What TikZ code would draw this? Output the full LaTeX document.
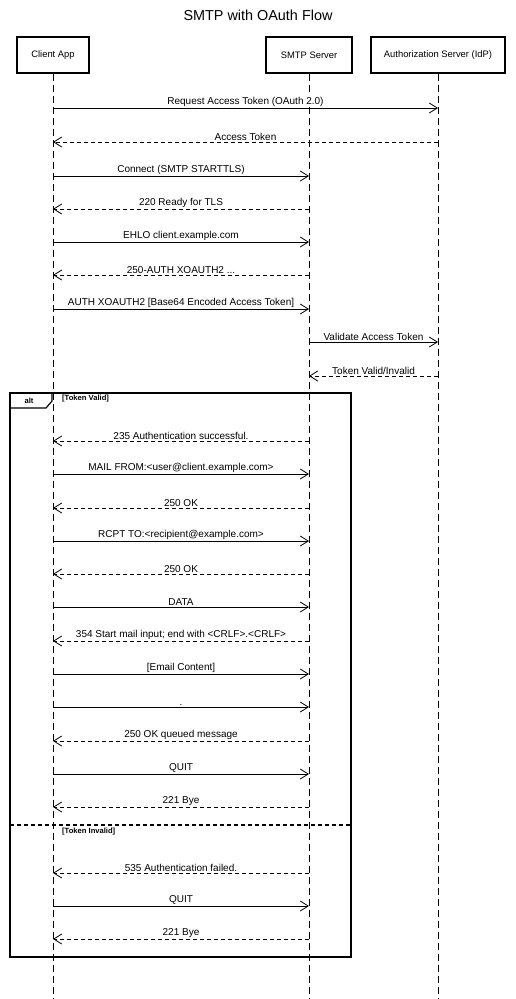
\documentclass[tikz,border=0pt]{standalone}
\usepackage{fontspec}
\setmainfont{Liberation Sans}
\usetikzlibrary{arrows.meta,positioning}
\tikzset{
  actor/.style    = {draw, line width=1.1pt, minimum height=36pt, inner xsep=6pt,
                     font=\fontsize{9.4}{11}\selectfont},
  lifeline/.style = {line width=0.8pt, dash pattern=on 7pt off 4pt},
  call/.style     = {line width=0.8pt, -{Straight Barb[length=8pt,width=10pt]}},
  reply/.style    = {line width=0.8pt, dash pattern=on 4pt off 3pt,
                     -{Straight Barb[length=8pt,width=10pt]}},
  msg/.style      = {midway, above=0.5pt, inner sep=1pt, fill=white,
                     font=\fontsize{10}{12}\selectfont},
  frame/.style    = {line width=1.2pt},
  guard/.style    = {font=\bfseries\fontsize{7.6}{9}\selectfont, anchor=west, inner sep=0pt},
}

\begin{document}
\begin{tikzpicture}[x=1pt, y=-1pt]
  \useasboundingbox (0,0) rectangle (516,999);

  % ---- title ---------------------------------------------------------------
  \node[font=\fontsize{14.4}{16}\selectfont] (title) at (258,15) {SMTP with OAuth Flow};

  % ---- participants and lifelines --------------------------------------------
  \node[actor, minimum width=72pt]  (client) at (53,55)  {Client App};
  \node[actor, minimum width=86pt]  (smtp)   at (309,55) {SMTP Server};
  \node[actor, minimum width=134pt] (idp)    at (438,55) {Authorization Server (IdP)};

  \foreach \p in {client,smtp,idp} {
    \coordinate (\p-end) at (\p |- 0,999);
    \draw[lifeline] (\p.south) -- (\p-end);
  }

  % ---- messages --------------------------------------------------------------
  \foreach \y/\src/\dst/\kind/\txt in {
      108/client/idp/call/{Request Access Token (OAuth 2.0)},
      142/idp/client/reply/{Access Token},
      176/client/smtp/call/{Connect (SMTP STARTTLS)},
      209/smtp/client/reply/{220 Ready for TLS},
      242/client/smtp/call/{EHLO client.example.com},
      275/smtp/client/reply/{250-AUTH XOAUTH2 ...},
      309/client/smtp/call/{AUTH XOAUTH2 [Base64 Encoded Access Token]},
      342/smtp/idp/call/{Validate Access Token},
      376/idp/smtp/reply/{Token Valid/Invalid},
      441/smtp/client/reply/{235 Authentication successful.},
      474/client/smtp/call/{MAIL FROM:<user@client.example.com>},
      508/smtp/client/reply/{250 OK},
      541/client/smtp/call/{RCPT TO:<recipient@example.com>},
      574/smtp/client/reply/{250 OK},
      607/client/smtp/call/{DATA},
      641/smtp/client/reply/{354 Start mail input; end with <CRLF>.<CRLF>},
      674/client/smtp/call/{[Email Content]},
      707/client/smtp/call/{.},
      741/smtp/client/reply/{250 OK queued message},
      774/client/smtp/call/{QUIT},
      807/smtp/client/reply/{221 Bye},
      873/smtp/client/reply/{535 Authentication failed.},
      906/client/smtp/call/{QUIT},
      939/smtp/client/reply/{221 Bye}} {
    \coordinate (\src-\y) at (\src |- 0,\y);
    \coordinate (\dst-\y) at (\dst |- 0,\y);
    \draw[\kind] (\src-\y) -- node[msg] (lbl-\y) {\txt} (\dst-\y);
  }

  % ---- alt fragment ----------------------------------------------------------
  \draw[frame] (10,393) rectangle (351,957);
  \draw[frame] (10,408) -- (46,408) -- (52,401) -- (52,393);
  \node[guard, anchor=center] (altname) at (29,400.5) {alt};
  \node[guard] (valid) at (62,399) {[Token Valid]};
  \draw[frame, dash pattern=on 4pt off 3pt] (10,825) -- (351,825);
  \node[guard] (invalid) at (62,832) {[Token Invalid]};
\end{tikzpicture}
\end{document}
